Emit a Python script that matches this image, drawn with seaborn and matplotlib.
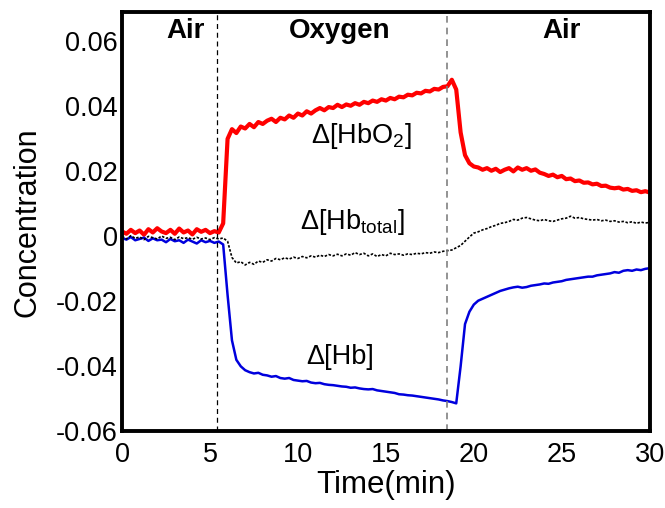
import numpy as np
import pandas as pd
import seaborn as sns
import matplotlib
matplotlib.use('Agg')
import matplotlib.pyplot as plt

# time axis, one reading every 0.25 min
time_min = [i * 0.25 for i in range(121)]

# values
hbo2 = [
    0.0015, 0.0008, 0.0020, 0.0010, 0.0018, 0.0005, 0.0022, 0.0012, 0.0025, 0.0015,
    0.0010, 0.0020, 0.0008, 0.0024, 0.0012, 0.0018, 0.0006, 0.0022, 0.0014, 0.0020,
    0.0010, 0.0016, 0.0012, 0.0040, 0.0300, 0.0330, 0.0318, 0.0338, 0.0332, 0.0346,
    0.0336, 0.0352, 0.0346, 0.0356, 0.0362, 0.0352, 0.0365, 0.0360, 0.0372, 0.0365,
    0.0378, 0.0372, 0.0385, 0.0378, 0.0388, 0.0395, 0.0388, 0.0398, 0.0395, 0.0405,
    0.0398, 0.0406, 0.0402, 0.0410, 0.0405, 0.0414, 0.0410, 0.0418, 0.0414, 0.0422,
    0.0418, 0.0426, 0.0422, 0.0430, 0.0428, 0.0436, 0.0434, 0.0442, 0.0440, 0.0448,
    0.0446, 0.0454, 0.0452, 0.0460, 0.0462, 0.0482, 0.0452, 0.0320, 0.0250, 0.0225,
    0.0215, 0.0212, 0.0205, 0.0210, 0.0202, 0.0208, 0.0198, 0.0205, 0.0210, 0.0200,
    0.0212, 0.0205, 0.0210, 0.0202, 0.0206, 0.0196, 0.0192, 0.0186, 0.0190, 0.0182,
    0.0186, 0.0176, 0.0178, 0.0170, 0.0172, 0.0165, 0.0166, 0.0160, 0.0162, 0.0155,
    0.0156, 0.0150, 0.0148, 0.0150, 0.0144, 0.0146, 0.0140, 0.0142, 0.0136, 0.0139,
    0.0135,
]

hb = [
    -0.0005, -0.0010, -0.0002, -0.0012, -0.0008, -0.0004, -0.0014, -0.0006, -0.0012, -0.0010,
    -0.0018, -0.0008, -0.0015, -0.0012, -0.0020, -0.0010, -0.0016, -0.0022, -0.0012, -0.0018,
    -0.0014, -0.0020, -0.0016, -0.0025, -0.0180, -0.0320, -0.0380, -0.0400, -0.0412, -0.0418,
    -0.0422, -0.0420, -0.0426, -0.0428, -0.0432, -0.0430, -0.0436, -0.0438, -0.0436, -0.0442,
    -0.0444, -0.0446, -0.0445, -0.0450, -0.0452, -0.0451, -0.0455, -0.0457, -0.0458, -0.0460,
    -0.0462, -0.0463, -0.0466, -0.0465, -0.0468, -0.0470, -0.0471, -0.0470, -0.0474, -0.0476,
    -0.0478, -0.0480, -0.0482, -0.0486, -0.0487, -0.0489, -0.0490, -0.0492, -0.0494, -0.0496,
    -0.0498, -0.0500, -0.0502, -0.0505, -0.0507, -0.0510, -0.0514, -0.0400, -0.0270, -0.0232,
    -0.0210, -0.0198, -0.0192, -0.0186, -0.0180, -0.0174, -0.0168, -0.0164, -0.0160, -0.0157,
    -0.0155, -0.0158, -0.0156, -0.0152, -0.0150, -0.0148, -0.0145, -0.0146, -0.0142, -0.0140,
    -0.0138, -0.0134, -0.0132, -0.0130, -0.0128, -0.0126, -0.0124, -0.0124, -0.0120, -0.0118,
    -0.0116, -0.0114, -0.0110, -0.0112, -0.0106, -0.0104, -0.0106, -0.0102, -0.0104, -0.0100,
    -0.0098,
]

hb_total = [
    0.0000, -0.0008, 0.0002, -0.0006, -0.0002, -0.0010, 0.0000, -0.0004, -0.0008, 0.0001,
    -0.0006, -0.0003, -0.0010, -0.0002, -0.0007, -0.0004, -0.0009, -0.0003, -0.0008, -0.0005,
    -0.0010, -0.0004, -0.0008, -0.0005, -0.0015, -0.0065, -0.0082, -0.0078, -0.0088, -0.0080,
    -0.0086, -0.0076, -0.0080, -0.0072, -0.0076, -0.0068, -0.0072, -0.0066, -0.0070, -0.0064,
    -0.0068, -0.0062, -0.0066, -0.0060, -0.0064, -0.0058, -0.0062, -0.0056, -0.0060, -0.0055,
    -0.0060, -0.0054, -0.0058, -0.0050, -0.0056, -0.0052, -0.0060, -0.0054, -0.0062, -0.0056,
    -0.0060, -0.0052, -0.0056, -0.0054, -0.0058, -0.0054, -0.0056, -0.0052, -0.0054, -0.0050,
    -0.0052, -0.0048, -0.0050, -0.0046, -0.0044, -0.0042, -0.0035, -0.0028, -0.0015, -0.0002,
    0.0010, 0.0014, 0.0020, 0.0024, 0.0030, 0.0034, 0.0040, 0.0042, 0.0046, 0.0052,
    0.0050, 0.0056, 0.0058, 0.0054, 0.0050, 0.0048, 0.0052, 0.0048, 0.0046, 0.0050,
    0.0054, 0.0056, 0.0062, 0.0056, 0.0058, 0.0054, 0.0052, 0.0050, 0.0052, 0.0048,
    0.0050, 0.0046, 0.0048, 0.0044, 0.0046, 0.0042, 0.0045, 0.0040, 0.0044, 0.0041,
    0.0043,
]

switch_times = [5.4, 18.5]
phase_names = ['Air', 'Oxygen', 'Air']
phase_x = [3.6, 12.4, 25.0]

df = pd.DataFrame({'t': time_min, 'HbO2': hbo2, 'Hb': hb, 'Hbtotal': hb_total})

sns.set_style('white', {'text.color': 'black', 'axes.labelcolor': 'black',
                        'xtick.color': 'black', 'ytick.color': 'black'})
plt.rcParams['font.family'] = ['Liberation Sans', 'DejaVu Sans']
plt.rcParams['mathtext.fontset'] = 'custom'
plt.rcParams['mathtext.rm'] = 'Liberation Sans'
plt.rcParams['mathtext.it'] = 'Liberation Sans'

fig = plt.figure(figsize=(6.65, 5.08), dpi=100)
ax = fig.add_axes([0.1835, 0.151, 0.7935, 0.825])

sns.lineplot(x='t', y='HbO2', data=df, color='#ff0000', linewidth=3.0, ax=ax)
sns.lineplot(x='t', y='Hb', data=df, color='#0000dd', linewidth=1.8, ax=ax)
sns.lineplot(x='t', y='Hbtotal', data=df, color='black', linewidth=1.2,
             linestyle=(0, (1.5, 1.0)), ax=ax)

ax.axvline(switch_times[0], color='black', linestyle='--', linewidth=0.9, dashes=(4, 3))
ax.axvline(switch_times[1], color='grey', linestyle='--', linewidth=1.2, dashes=(4, 3))

for name, x in zip(phase_names, phase_x):
    ax.text(x, 0.0632, name, ha='center', va='center', fontsize=20, fontweight='bold')

ax.text(13.6, 0.031, r'Δ[HbO$_2$]', ha='center', va='center', fontsize=19.5)
ax.text(13.1, 0.0045, r'Δ[Hb$_{\mathrm{total}}$]', ha='center', va='center', fontsize=19.5)
ax.text(12.4, -0.0372, 'Δ[Hb]', ha='center', va='center', fontsize=19.5)

ax.set_xlim(0, 30)
ax.set_ylim(-0.06, 0.069)
ax.set_xticks([0, 5, 10, 15, 20, 25, 30])
ax.set_yticks([-0.06, -0.04, -0.02, 0, 0.02, 0.04, 0.06])
ax.set_yticklabels(['-0.06', '-0.04', '-0.02', '0', '0.02', '0.04', '0.06'])
ax.tick_params(direction='in', length=8, width=2.2, labelsize=19.5)
ax.tick_params(axis='x', pad=8)
ax.tick_params(axis='y', pad=3)
for s in ax.spines.values():
    s.set_linewidth(2.8)
    s.set_color('black')

ax.set_xlabel('Time(min)', fontsize=22.5)
ax.set_ylabel('Concentration', fontsize=22)
ax.xaxis.set_label_coords(0.5, -0.093)
ax.yaxis.set_label_coords(-0.15, 0.5)

fig.savefig('out.png', dpi=100)
